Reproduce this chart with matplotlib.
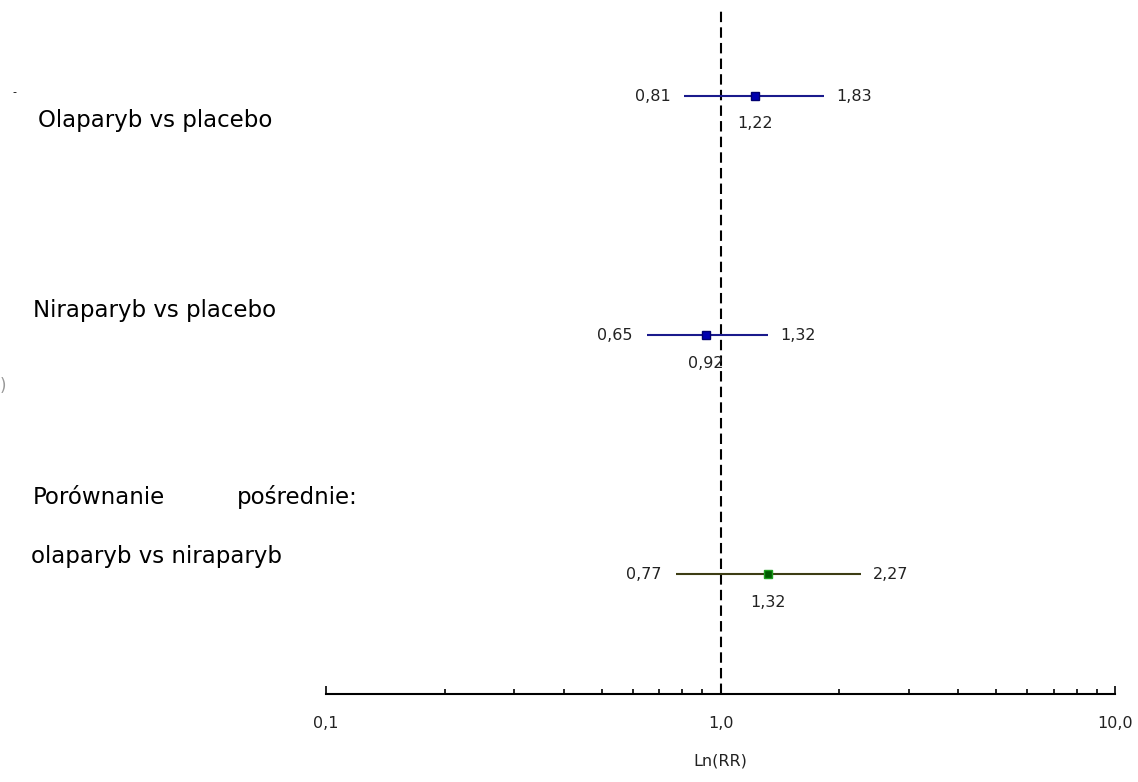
import matplotlib.pyplot as plt
import numpy as np

# Risk ratios with 95% CI
labels = ["Olaparyb vs placebo", "Niraparyb vs placebo", "olaparyb vs niraparyb"]
rr = [1.22, 0.92, 1.32]
ci_low = [0.81, 0.65, 0.77]
ci_high = [1.83, 1.32, 2.27]
rows = [3, 2, 1]
tick_vals = [0.1, 1.0, 10.0]
tick_text = ["0,1", "1,0", "10,0"]

line_colors = ["#1a1a8c", "#1a1a8c", "#3d3d14"]
marker_colors = ["#0000b0", "#0000b0", "#005a00"]
marker_edges = ["#000070", "#000070", "#1fa01f"]


def fmt(v):
    return f"{v:.2f}".replace(".", ",")


fig = plt.figure(figsize=(11.38, 7.82), dpi=100)
ax = fig.add_axes([326 / 1138, 88 / 782, 789 / 1138, 684 / 782])
ax.set_xscale("log")
ax.set_xlim(0.1, 10)
ax.set_ylim(0.5, 3.36)

for y, m, lo, hi, lc, mc, me in zip(rows, rr, ci_low, ci_high, line_colors, marker_colors, marker_edges):
    ax.plot([lo, hi], [y, y], color=lc, lw=1.5, solid_capstyle="butt", zorder=3)
    ax.plot([m], [y], marker="s", ms=6, color=mc, mec=me, mew=1, zorder=4)
    ax.annotate(fmt(lo), (lo, y), xytext=(-10, 0), textcoords="offset points",
                ha="right", va="center", fontsize=11.5, color="#222222")
    ax.annotate(fmt(hi), (hi, y), xytext=(8.5, 0), textcoords="offset points",
                ha="left", va="center", fontsize=11.5, color="#222222")
    ax.annotate(fmt(m), (m, y), xytext=(0, -20), textcoords="offset points",
                ha="center", va="center", fontsize=11.5, color="#222222")

ax.axvline(1.0, color="black", lw=1.5, ls=(0, (5, 2.5)), zorder=2)

for s in ["top", "right", "left"]:
    ax.spines[s].set_visible(False)
ax.spines["bottom"].set_linewidth(1.5)
ax.set_yticks([])
ax.set_xticks(tick_vals)
ax.set_xticklabels(tick_text, fontsize=11.5, color="#222222")
ax.tick_params(axis="x", which="major", direction="in", length=5.5, width=1.2, pad=16)
ax.tick_params(axis="x", which="minor", direction="in", length=3.5, width=1.2)
ax.set_xlabel("Ln(RR)", fontsize=11.5, color="#222222", labelpad=16)

# row labels on the left
fs = 16.5
fig.text(38 / 1138, 1 - 120 / 782, labels[0], fontsize=fs, va="center", ha="left")
fig.text(33 / 1138, 1 - 311 / 782, labels[1], fontsize=fs, va="center", ha="left")
fig.text(33 / 1138, 1 - 497 / 782, "Porównanie", fontsize=fs, va="center", ha="left")
fig.text(237 / 1138, 1 - 497 / 782, "pośrednie:", fontsize=fs, va="center", ha="left")
fig.text(31 / 1138, 1 - 556 / 782, labels[2], fontsize=fs, va="center", ha="left")

fig.text(12 / 1138, 1 - 92 / 782, "-", fontsize=8, va="center", ha="left")
fig.text(0, 1 - 386 / 782, ")", fontsize=12, va="center", ha="left", color="#999999")

fig.savefig("out.png", dpi=100)
